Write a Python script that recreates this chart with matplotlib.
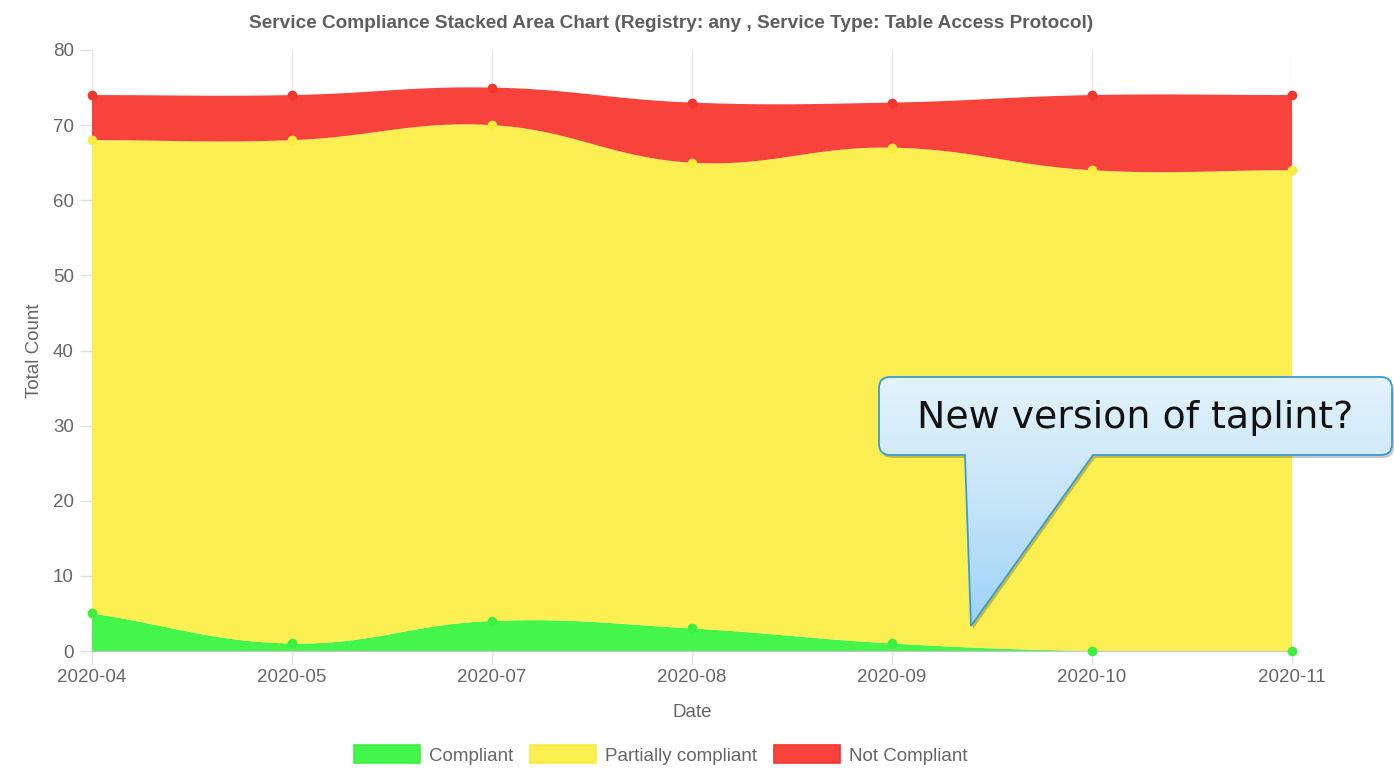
import numpy as np
import matplotlib
matplotlib.use("Agg")
import matplotlib.pyplot as plt
from matplotlib.path import Path
from matplotlib.patches import PathPatch, Patch
from matplotlib.colors import LinearSegmentedColormap

plt.rcParams["font.family"] = ["Liberation Sans", "DejaVu Sans"]

dates = ["2020-04", "2020-05", "2020-07", "2020-08", "2020-09", "2020-10", "2020-11"]
compliant = [5, 1, 4, 3, 1, 0, 0]
partially = [63, 67, 66, 62, 66, 64, 64]
not_compliant = [6, 6, 5, 8, 6, 10, 10]

series_names = ["Compliant", "Partially compliant", "Not Compliant"]
fill_colors = ["#44f54a", "#fcef52", "#f7433b"]
point_colors = ["#3cf042", "#f8ec3c", "#f2352d"]

W, H = 1394, 773
fig = plt.figure(figsize=(W / 100, H / 100), dpi=100)
ax = fig.add_axes([92 / W, (H - 651) / H, 1200 / W, 601 / H])
ax.set_xlim(0, len(dates) - 1)
ax.set_ylim(0, 80)


def spline(px, py, t=0.4, ymax_pix=None):
    # chart.js style bezier, done in pixel space
    n = len(px)
    cps = []
    for i in range(n):
        pp = (px[max(i - 1, 0)], py[max(i - 1, 0)])
        cur = (px[i], py[i])
        nx = (px[min(i + 1, n - 1)], py[min(i + 1, n - 1)])
        d01 = np.hypot(cur[0] - pp[0], cur[1] - pp[1])
        d12 = np.hypot(nx[0] - cur[0], nx[1] - cur[1])
        s = d01 + d12
        s01 = d01 / s if s else 0
        s12 = d12 / s if s else 0
        fa, fb = t * s01, t * s12
        prev_cp = [cur[0] - fa * (nx[0] - pp[0]), cur[1] - fa * (nx[1] - pp[1])]
        next_cp = [cur[0] + fb * (nx[0] - pp[0]), cur[1] + fb * (nx[1] - pp[1])]
        if ymax_pix is not None:
            prev_cp[1] = max(prev_cp[1], ymax_pix)
            next_cp[1] = max(next_cp[1], ymax_pix)
        cps.append((prev_cp, next_cp))
    xs, ys = [], []
    tt = np.linspace(0, 1, 60)
    for i in range(n - 1):
        p0 = np.array([px[i], py[i]])
        p1 = np.array(cps[i][1])
        p2 = np.array(cps[i + 1][0])
        p3 = np.array([px[i + 1], py[i + 1]])
        b = ((1 - tt) ** 3)[:, None] * p0 + (3 * (1 - tt) ** 2 * tt)[:, None] * p1 \
            + (3 * (1 - tt) * tt ** 2)[:, None] * p2 + (tt ** 3)[:, None] * p3
        xs.extend(b[:, 0])
        ys.extend(b[:, 1])
    return np.array(xs), np.array(ys)


x = np.arange(len(dates))
stacks = np.cumsum([compliant, partially, not_compliant], axis=0)
zero_pix = ax.transData.transform((0, 0))[1]

curves = []
for row in stacks:
    pix = ax.transData.transform(np.column_stack([x, row]))
    sx, sy = spline(pix[:, 0], pix[:, 1], ymax_pix=zero_pix)
    d = ax.transData.inverted().transform(np.column_stack([sx, sy]))
    curves.append(d)

lower = np.array([[0, 0], [len(dates) - 1, 0]])
for i, c in enumerate(curves):
    poly = np.vstack([c, lower[::-1]])
    ax.fill(poly[:, 0], poly[:, 1], color=fill_colors[i], lw=0, zorder=2 + i * 0.1)
    lower = c
    ax.plot(x, stacks[i], "o", color=point_colors[i], ms=7, mew=0, zorder=4, clip_on=False)

ax.set_xticks(x)
ax.set_xticklabels(dates)
ax.set_yticks(np.arange(0, 81, 10))
ax.grid(axis="x", color="#e6e6e6", lw=1, zorder=0)
for s in ["top", "right", "left"]:
    ax.spines[s].set_visible(False)
ax.spines["bottom"].set_color("#c8c8c8")
ax.tick_params(colors="#e0e0e0", labelcolor="#666666", labelsize=13.5, length=9, width=1)
ax.tick_params(axis="x", pad=4)
ax.tick_params(axis="y", pad=4)
ax.set_ylabel("Total Count", color="#666666", fontsize=13.5, labelpad=7)
ax.set_xlabel("Date", color="#666666", fontsize=13.5, labelpad=13)
ax.set_title("Service Compliance Stacked Area Chart (Registry: any , Service Type: Table Access Protocol)",
             color="#5e5e5e", fontsize=13.7, fontweight="bold", pad=16, x=(671 - 92) / 1200)

handles = [Patch(facecolor=fill_colors[i], edgecolor=point_colors[i], lw=1.2) for i in range(3)]
fig.legend(handles, series_names, loc="center", bbox_to_anchor=(661 / W, 1 - 755 / H), ncol=3,
           frameon=False, fontsize=13.5, handlelength=3.5, handleheight=1.1, handletextpad=0.5,
           columnspacing=0.9, labelcolor="#666666")

# callout bubble
ov = fig.add_axes([0, 0, 1, 1], zorder=10)
ov.set_xlim(0, W)
ov.set_ylim(H, 0)
ov.axis("off")

L, R, T, B, r = 879, 1392, 377, 455, 11
b1, b2, tip = 965, 1093, (971, 626)
verts = [(L + r, T), (R - r, T), (R, T), (R, T + r), (R, B - r), (R, B), (R - r, B),
         (b2, B), tip, (b1, B), (L + r, B), (L, B), (L, B - r), (L, T + r), (L, T), (L + r, T), (L + r, T)]
codes = [Path.MOVETO, Path.LINETO, Path.CURVE3, Path.CURVE3, Path.LINETO, Path.CURVE3, Path.CURVE3,
         Path.LINETO, Path.LINETO, Path.LINETO, Path.LINETO, Path.CURVE3, Path.CURVE3, Path.LINETO,
         Path.CURVE3, Path.CURVE3, Path.CLOSEPOLY]
bubble = Path(verts, codes)
shadow = Path(np.array(verts) + np.array([2, 3]), codes)
ov.add_patch(PathPatch(shadow, facecolor="#000000", alpha=0.22, lw=0))
patch = PathPatch(bubble, facecolor="none", edgecolor="#3c9ad8", lw=1.3, zorder=3)
ov.add_patch(patch)
cmap = LinearSegmentedColormap.from_list("bub", ["#e3f3fc", "#c6e5f9", "#9cd3f8"])
grad = np.linspace(0, 1, 256)[:, None]
im = ov.imshow(grad, extent=[L, R, tip[1], T], cmap=cmap, aspect="auto", zorder=2)
im.set_clip_path(PathPatch(bubble, transform=ov.transData))
ov.set_xlim(0, W)
ov.set_ylim(H, 0)
ov.text((L + R) / 2, 418, "New version of taplint?", fontsize=27.3, family="DejaVu Sans",
        ha="center", va="center", color="#111111", zorder=4)

fig.savefig("out.png", dpi=100)
